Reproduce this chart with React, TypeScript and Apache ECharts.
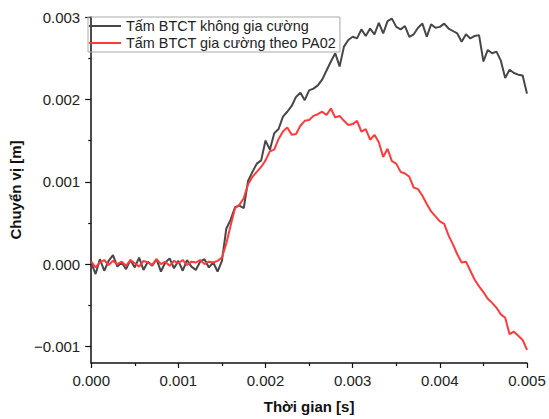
import React, { useEffect, useRef } from "react";
import * as echarts from "echarts";

const TIME_STEP = 0.00005; // s
const seriesNames = ["Tấm BTCT không gia cường", "Tấm BTCT gia cường theo PA02"];

// displacement in micrometres, sampled every TIME_STEP
const blackUm = [
  20, -120, 60, -80, 40, 110, -30, 20, -60, 50,
  -40, 80, -70, 30, -20, 60, -90, 20, 70, -50,
  40, -80, 50, -30, -70, 30, 60, -40, 20, -90,
  40, 430, 540, 690, 710, 680, 1010, 1120, 1220, 1260,
  1500, 1390, 1590, 1640, 1790, 1850, 1920, 2030, 2080, 1990,
  2110, 2130, 2170, 2240, 2350, 2460, 2560, 2400, 2640, 2720,
  2760, 2740, 2850, 2770, 2860, 2790, 2930, 2800, 2950, 2980,
  2880, 2850, 2890, 2760, 2790, 2870, 2920, 2760, 2910, 2870,
  2880, 2920, 2860, 2830, 2800, 2700, 2790, 2740, 2770, 2780,
  2460, 2600, 2560, 2580, 2470, 2260, 2360, 2320, 2300, 2290,
  2070,
];

const redUm = [
  30, -40, 20, 50, -10, 40, 0, 30, -20, 50,
  10, -30, 40, 20, -10, 60, 0, 30, -20, 40,
  10, 50, -10, 30, 20, 50, 0, 30, 20, 40,
  80, 250, 470, 680, 720, 800, 970, 1060, 1120, 1180,
  1260, 1370, 1390, 1520, 1610, 1660, 1570, 1580, 1680, 1740,
  1750, 1800, 1820, 1850, 1810, 1890, 1780, 1800, 1740, 1690,
  1700, 1740, 1610, 1640, 1510, 1570, 1480, 1300, 1400, 1250,
  1220, 1120, 1100, 1060, 930, 910, 830, 730, 640, 580,
  520, 490, 350, 240, 120, 20, 30, -80, -190, -270,
  -340, -420, -470, -530, -610, -650, -850, -820, -870, -920,
  -1040,
];

const xTicks = [0, 0.001, 0.002, 0.003, 0.004, 0.005];
const yMajorTicks = [-0.001, 0, 0.001, 0.002, 0.003];
const yMinorTicks = [-0.0005, 0.0005, 0.0015, 0.0025];

const FONT = "'Liberation Sans', Arial, sans-serif";

function toPoints(um: number[]) {
  return um.map((v, i) => [+(i * TIME_STEP).toFixed(6), v * 1e-6]);
}

function fmt(v: number) {
  const s = Math.abs(v).toFixed(3);
  return v < -1e-9 ? "\u2212" + s : s;
}

export default function App() {
  const ref = useRef<HTMLDivElement>(null);
  useEffect(() => {
    if (!ref.current) return;
    const chart = echarts.init(ref.current, null, { renderer: "svg" });
    const axisLine = { show: true, onZero: false, lineStyle: { color: "#111", width: 1.5 } };
    chart.setOption({
      animation: false,
      backgroundColor: "#fff",
      grid: { left: 88, right: 22, top: 17, bottom: 56, containLabel: false },
      legend: {
        left: 88,
        top: 17,
        orient: "vertical",
        data: seriesNames,
        icon: "rect",
        itemWidth: 32,
        itemHeight: 2,
        itemGap: 1,
        padding: [1, 4, 1, 1],
        borderColor: "#aaa",
        borderWidth: 1,
        textStyle: { fontFamily: FONT, fontSize: 14.4, color: "#222", lineHeight: 16 },
      },
      xAxis: {
        type: "value",
        min: 0,
        max: 0.005,
        interval: 0.001,
        name: "Thời gian [s]",
        nameLocation: "middle",
        nameGap: 36,
        nameTextStyle: { fontFamily: FONT, fontSize: 15, fontWeight: "bold", color: "#111" },
        axisLine,
        axisTick: { show: true, length: 5, lineStyle: { color: "#111", width: 1.2 } },
        minorTick: { show: true, splitNumber: 2, length: 3, lineStyle: { color: "#111", width: 1.2 } },
        splitLine: { show: false },
        axisLabel: {
          fontFamily: FONT,
          fontSize: 15,
          color: "#222",
          margin: 10,
          customValues: xTicks,
          formatter: (v: number) => fmt(v),
        },
      },
      yAxis: [
        {
          type: "value",
          min: -0.0012,
          max: 0.003,
          name: "Chuyển vị [m]",
          nameLocation: "middle",
          nameGap: 63,
          nameTextStyle: { fontFamily: FONT, fontSize: 15, fontWeight: "bold", color: "#111" },
          axisLine,
          axisTick: { show: true, length: 6, customValues: yMajorTicks, lineStyle: { color: "#111", width: 1.2 } },
          splitLine: { show: false },
          axisLabel: {
            fontFamily: FONT,
            fontSize: 15,
            color: "#222",
            margin: 11,
            customValues: yMajorTicks,
            formatter: (v: number) => fmt(v),
          },
        },
        {
          type: "value",
          min: -0.0012,
          max: 0.003,
          position: "left",
          axisLine: { show: false, onZero: false },
          axisTick: { show: true, length: 3, customValues: yMinorTicks, lineStyle: { color: "#111", width: 1.2 } },
          axisLabel: { show: false },
          splitLine: { show: false },
        },
      ],
      series: [
        {
          name: seriesNames[0],
          type: "line",
          data: toPoints(blackUm),
          symbol: "none",
          lineStyle: { color: "#474747", width: 2 },
          itemStyle: { color: "#474747" },
        },
        {
          name: seriesNames[1],
          type: "line",
          data: toPoints(redUm),
          symbol: "none",
          lineStyle: { color: "#ff3a3a", width: 2 },
          itemStyle: { color: "#ff3a3a" },
        },
      ],
    });
    return () => chart.dispose();
  }, []);
  return (
    <div
      ref={ref}
      style={{ position: "fixed", left: 0, top: 0, width: 549, height: 419, background: "#fff" }}
    />
  );
}
